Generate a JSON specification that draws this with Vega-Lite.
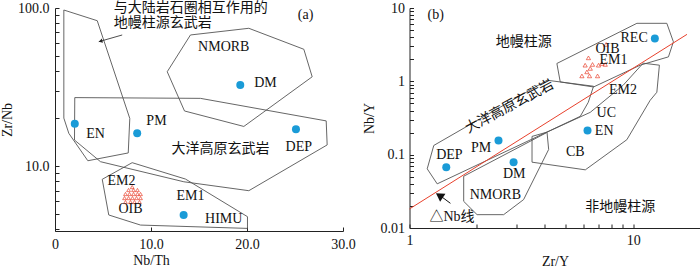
{
  "$schema": "https://vega.github.io/schema/vega-lite/v6.json",
  "padding": {"left": 0, "top": 1, "right": 0, "bottom": 0},
  "background": "white",
  "bounds": "flush",
  "spacing": 66.5,
  "config": {
    "view": {"stroke": null},
    "axis": {
      "grid": false, "domainColor": "#222", "tickColor": "#222", "labelColor": "#111", "titleColor": "#111",
      "labelFont": "Liberation Serif", "titleFont": "Liberation Serif", "labelFontSize": 14, "titleFontSize": 14,
      "titleFontWeight": "normal", "tickSize": -4, "domainWidth": 1, "tickWidth": 1, "labelOverlap": false, "labelFlush": false
    }
  },
  "datasets": {
    "polyA": [
      {"poly": "A1", "i": 0, "x": 0.92, "y": 97.1}, {"poly": "A1", "i": 1, "x": 4.40, "y": 83.1}, {"poly": "A1", "i": 2, "x": 7.79, "y": 20.0}, {"poly": "A1", "i": 3, "x": 7.63, "y": 12.1}, {"poly": "A1", "i": 4, "x": 3.42, "y": 10.8}, {"poly": "A1", "i": 5, "x": 1.44, "y": 16.1}, {"poly": "A1", "i": 6, "x": 0.92, "y": 20.1}, {"poly": "A1", "i": 7, "x": 0.92, "y": 97.1},
      {"poly": "A2", "i": 0, "x": 2.06, "y": 27.1}, {"poly": "A2", "i": 1, "x": 15.16, "y": 26.8}, {"poly": "A2", "i": 2, "x": 28.25, "y": 19.3}, {"poly": "A2", "i": 3, "x": 28.35, "y": 13.6}, {"poly": "A2", "i": 4, "x": 20.19, "y": 6.98}, {"poly": "A2", "i": 5, "x": 13.42, "y": 7.95}, {"poly": "A2", "i": 6, "x": 4.74, "y": 10.65}, {"poly": "A2", "i": 7, "x": 2.03, "y": 14.6}, {"poly": "A2", "i": 8, "x": 2.06, "y": 27.1},
      {"poly": "A3", "i": 0, "x": 11.69, "y": 39.5}, {"poly": "A3", "i": 1, "x": 14.11, "y": 67.5}, {"poly": "A3", "i": 2, "x": 20.19, "y": 74.4}, {"poly": "A3", "i": 3, "x": 25.92, "y": 54.8}, {"poly": "A3", "i": 4, "x": 26.79, "y": 36.7}, {"poly": "A3", "i": 5, "x": 19.67, "y": 17.8}, {"poly": "A3", "i": 6, "x": 13.49, "y": 22.3}, {"poly": "A3", "i": 7, "x": 11.69, "y": 39.5},
      {"poly": "A4", "i": 0, "x": 4.92, "y": 8.24}, {"poly": "A4", "i": 1, "x": 8.04, "y": 10.5}, {"poly": "A4", "i": 2, "x": 13.59, "y": 8.27}, {"poly": "A4", "i": 3, "x": 20.05, "y": 4.78}, {"poly": "A4", "i": 4, "x": 20.05, "y": 4.03}, {"poly": "A4", "i": 5, "x": 8.91, "y": 4.23}, {"poly": "A4", "i": 6, "x": 5.60, "y": 4.90}, {"poly": "A4", "i": 7, "x": 4.92, "y": 8.24}
    ],
    "ptsA": [
      {"name": "EN", "x": 2.06, "y": 18.5}, {"name": "PM", "x": 8.56, "y": 16.1}, {"name": "DM", "x": 19.3, "y": 32.6}, {"name": "DEP", "x": 25.1, "y": 17.1}, {"name": "HIMU", "x": 13.4, "y": 4.9}
    ],
    "triA": [
      {"x": 8.04, "y": 7.36},
      {"x": 7.66, "y": 7.05}, {"x": 8.18, "y": 7.05}, {"x": 8.59, "y": 7.05},
      {"x": 7.34, "y": 6.65}, {"x": 7.76, "y": 6.65}, {"x": 8.18, "y": 6.65}, {"x": 8.59, "y": 6.65}, {"x": 8.91, "y": 6.65},
      {"x": 7.24, "y": 6.27}, {"x": 7.66, "y": 6.27}, {"x": 8.07, "y": 6.27}, {"x": 8.49, "y": 6.27}, {"x": 8.91, "y": 6.27},
      {"x": 7.34, "y": 5.92}, {"x": 7.86, "y": 5.92}, {"x": 8.28, "y": 5.92}, {"x": 8.80, "y": 5.92}
    ],
    "txtA": [
      {"label": "EN", "x": 4.22, "y": 15.9}, {"label": "PM", "x": 10.57, "y": 19.3}, {"label": "DM", "x": 21.93, "y": 33.5}, {"label": "DEP", "x": 25.4, "y": 13.1},
      {"label": "NMORB", "x": 17.58, "y": 56.9}, {"label": "大洋高原玄武岩", "x": 17.24, "y": 12.8}, {"label": "EM2", "x": 6.93, "y": 8.07}, {"label": "OIB", "x": 7.86, "y": 5.32},
      {"label": "EM1", "x": 14.11, "y": 6.46}, {"label": "HIMU", "x": 17.58, "y": 4.6}, {"label": "(a)", "x": 26.1, "y": 90.3}
    ],
    "annoA": [
      {"label": "与大陆岩石圈相互作用的", "x": 6.125, "y": 100}, {"label": "地幔柱源玄武岩", "x": 6.125, "y": 80.7}
    ],
    "arrowA": [{"x": 7.0, "y": 67.5, "x2": 4.56, "y2": 61.2}],
    "headA": [{"x": 4.75, "y": 61.7}],
    "polyB": [
      {"poly": "B1", "i": 0, "x": 4.56, "y": 1.752}, {"poly": "B1", "i": 1, "x": 10.39, "y": 6.18}, {"poly": "B1", "i": 2, "x": 14.14, "y": 6.18}, {"poly": "B1", "i": 3, "x": 15.13, "y": 3.46}, {"poly": "B1", "i": 4, "x": 14.38, "y": 2.157}, {"poly": "B1", "i": 5, "x": 10.75, "y": 1.661}, {"poly": "B1", "i": 6, "x": 6.65, "y": 0.838}, {"poly": "B1", "i": 7, "x": 4.72, "y": 0.981}, {"poly": "B1", "i": 8, "x": 4.56, "y": 1.752},
      {"poly": "B2", "i": 0, "x": 1.20, "y": 0.0641}, {"poly": "B2", "i": 1, "x": 1.284, "y": 0.1336}, {"poly": "B2", "i": 2, "x": 4.12, "y": 1.035}, {"poly": "B2", "i": 3, "x": 6.65, "y": 0.857}, {"poly": "B2", "i": 4, "x": 6.30, "y": 0.518}, {"poly": "B2", "i": 5, "x": 5.80, "y": 0.333}, {"poly": "B2", "i": 6, "x": 1.33, "y": 0.04}, {"poly": "B2", "i": 7, "x": 1.20, "y": 0.0641},
      {"poly": "B3", "i": 0, "x": 1.747, "y": 0.0508}, {"poly": "B3", "i": 1, "x": 1.747, "y": 0.0231}, {"poly": "B3", "i": 2, "x": 2.005, "y": 0.0152}, {"poly": "B3", "i": 3, "x": 2.636, "y": 0.0152}, {"poly": "B3", "i": 4, "x": 3.237, "y": 0.0244}, {"poly": "B3", "i": 5, "x": 4.19, "y": 0.1178}, {"poly": "B3", "i": 6, "x": 4.12, "y": 0.2012}, {"poly": "B3", "i": 7, "x": 1.747, "y": 0.0508},
      {"poly": "B4", "i": 0, "x": 3.53, "y": 0.1774}, {"poly": "B4", "i": 1, "x": 3.53, "y": 0.079}, {"poly": "B4", "i": 2, "x": 6.11, "y": 0.0621}, {"poly": "B4", "i": 3, "x": 9.37, "y": 0.16}, {"poly": "B4", "i": 4, "x": 11.91, "y": 0.551}, {"poly": "B4", "i": 5, "x": 12.76, "y": 0.71}, {"poly": "B4", "i": 6, "x": 13.1, "y": 1.661}, {"poly": "B4", "i": 7, "x": 11.08, "y": 1.768}, {"poly": "B4", "i": 8, "x": 9.02, "y": 0.884}, {"poly": "B4", "i": 9, "x": 6.43, "y": 0.378}, {"poly": "B4", "i": 10, "x": 4.12, "y": 0.203}, {"poly": "B4", "i": 11, "x": 3.53, "y": 0.1774}
    ],
    "redB": [{"x": 1, "y": 0.0182}, {"x": 17.4, "y": 4.37}],
    "ptsB": [
      {"name": "REC", "x": 12.5, "y": 3.85}, {"name": "EN", "x": 6.25, "y": 0.214}, {"name": "DEP", "x": 1.46, "y": 0.0675}, {"name": "PM", "x": 2.5, "y": 0.156}, {"name": "DM", "x": 2.92, "y": 0.079}
    ],
    "triB": [
      {"x": 6.31, "y": 2.09}, {"x": 6.1, "y": 1.66}, {"x": 6.58, "y": 1.70}, {"x": 7.0, "y": 1.66}, {"x": 7.25, "y": 1.75}, {"x": 7.5, "y": 1.70},
      {"x": 6.43, "y": 1.50}, {"x": 6.21, "y": 1.345}, {"x": 5.9, "y": 1.185}, {"x": 6.38, "y": 1.185}, {"x": 6.93, "y": 1.185}, {"x": 7.57, "y": 3.19}
    ],
    "txtB": [
      {"label": "(b)", "x": 1.31, "y": 8.02}, {"label": "地幔柱源", "x": 3.24, "y": 3.46}, {"label": "REC", "x": 10.1, "y": 3.85}, {"label": "OIB", "x": 7.68, "y": 2.72},
      {"label": "EM1", "x": 8.17, "y": 1.94}, {"label": "EM2", "x": 9.0, "y": 0.772}, {"label": "UC", "x": 7.58, "y": 0.37}, {"label": "EN", "x": 7.42, "y": 0.2077},
      {"label": "CB", "x": 5.51, "y": 0.108}, {"label": "非地幔柱源", "x": 8.75, "y": 0.01956}, {"label": "DEP", "x": 1.508, "y": 0.0975}, {"label": "PM", "x": 2.09, "y": 0.1243},
      {"label": "DM", "x": 2.94, "y": 0.0548}, {"label": "NMORB", "x": 2.42, "y": 0.02854}, {"label": "△Nb线", "x": 1.55, "y": 0.01396}
    ],
    "rotB": [{"label": "大洋高原玄武岩", "x": 2.8, "y": 0.45}],
    "arrowB": [{"x": 1.524, "y": 0.0217, "x2": 1.38, "y2": 0.0272}],
    "headB": [{"x": 1.36, "y": 0.0278}]
  },
  "hconcat": [
    {
      "width": 288,
      "height": 223,
      "encoding": {
        "x": {"field": "x", "type": "quantitative",
          "scale": {"domain": [0, 30], "nice": false, "zero": false},
          "axis": {"values": [0, 10, 20, 30], "labelExpr": "datum.value == 0 ? '0' : format(datum.value, '.1f')", "title": "Nb/Th", "labelPadding": 10, "titlePadding": 2, "titleX": 96}},
        "y": {"field": "y", "type": "quantitative",
          "scale": {"type": "log", "domain": [3.88, 100], "nice": false},
          "axis": {"values": [4, 5, 6, 7, 8, 9, 10, 20, 30, 40, 50, 60, 70, 80, 90, 100], "labelExpr": "datum.value == 10 ? '10.0' : datum.value == 100 ? '100.0' : ''", "title": "Zr/Nb", "labelPadding": 10, "titlePadding": 3}}
      },
      "layer": [
        {"data": {"name": "polyA"}, "mark": {"type": "line", "color": "#555", "strokeWidth": 0.9}, "encoding": {"detail": {"field": "poly"}, "order": {"field": "i", "type": "quantitative"}}},
        {"data": {"name": "ptsA"}, "mark": {"type": "point", "filled": true, "shape": "circle", "size": 64, "color": "#1a9bd7", "opacity": 1}},
        {"data": {"name": "triA"}, "mark": {"type": "point", "filled": false, "shape": "triangle-up", "size": 14, "color": "#e8412c", "strokeWidth": 0.7, "opacity": 1}},
        {"data": {"name": "txtA"}, "mark": {"type": "text", "font": "Liberation Serif, Noto Sans CJK SC", "fontSize": 14, "color": "#111", "align": "center", "baseline": "middle"}, "encoding": {"text": {"field": "label"}}},
        {"data": {"name": "annoA"}, "mark": {"type": "text", "font": "Liberation Serif, Noto Sans CJK SC", "fontSize": 14, "color": "#111", "align": "left", "baseline": "middle"}, "encoding": {"text": {"field": "label"}}},
        {"data": {"name": "arrowA"}, "mark": {"type": "rule", "color": "#222", "strokeWidth": 0.8}, "encoding": {"x2": {"field": "x2"}, "y2": {"field": "y2"}}},
        {"data": {"name": "headA"}, "mark": {"type": "point", "shape": "triangle-up", "filled": true, "size": 18, "angle": 254, "color": "#222", "opacity": 1}}
      ]
    },
    {
      "width": 291,
      "height": 220,
      "encoding": {
        "x": {"field": "x", "type": "quantitative",
          "scale": {"type": "log", "domain": [1, 20], "nice": false},
          "axis": {"values": [1, 2, 3, 4, 5, 6, 7, 8, 9, 10], "labelExpr": "datum.value == 1 ? '1' : datum.value == 10 ? '10' : ''", "title": "Zr/Y", "labelPadding": 9, "titlePadding": 7}},
        "y": {"field": "y", "type": "quantitative",
          "scale": {"type": "log", "domain": [0.01, 10], "nice": false},
          "axis": {"values": [0.01, 0.02, 0.03, 0.04, 0.05, 0.06, 0.07, 0.08, 0.09, 0.1, 0.2, 0.3, 0.4, 0.5, 0.6, 0.7, 0.8, 0.9, 1, 2, 3, 4, 5, 6, 7, 8, 9, 10], "labelExpr": "datum.value == 10 ? '10' : datum.value == 1 ? '1' : datum.value == 0.1 ? '0.1' : datum.value == 0.01 ? '0.01' : ''", "title": "Nb/Y", "labelPadding": 9, "titlePadding": 4}}
      },
      "layer": [
        {"data": {"name": "polyB"}, "mark": {"type": "line", "color": "#555", "strokeWidth": 0.9}, "encoding": {"detail": {"field": "poly"}, "order": {"field": "i", "type": "quantitative"}}},
        {"data": {"name": "redB"}, "mark": {"type": "line", "color": "#e8412c", "strokeWidth": 1}, "encoding": {}},
        {"data": {"name": "ptsB"}, "mark": {"type": "point", "filled": true, "shape": "circle", "size": 64, "color": "#1a9bd7", "opacity": 1}},
        {"data": {"name": "triB"}, "mark": {"type": "point", "filled": false, "shape": "triangle-up", "size": 18, "color": "#e8412c", "strokeWidth": 0.7, "opacity": 1}},
        {"data": {"name": "txtB"}, "mark": {"type": "text", "font": "Liberation Serif, Noto Sans CJK SC", "fontSize": 14, "color": "#111", "align": "center", "baseline": "middle"}, "encoding": {"text": {"field": "label"}}},
        {"data": {"name": "rotB"}, "mark": {"type": "text", "font": "Liberation Serif, Noto Sans CJK SC", "fontSize": 14, "color": "#111", "align": "center", "baseline": "middle", "angle": -28}, "encoding": {"text": {"field": "label"}}},
        {"data": {"name": "arrowB"}, "mark": {"type": "rule", "color": "#111", "strokeWidth": 1}, "encoding": {"x2": {"field": "x2"}, "y2": {"field": "y2"}}},
        {"data": {"name": "headB"}, "mark": {"type": "point", "shape": "triangle-up", "filled": true, "size": 90, "angle": 304, "color": "#111", "opacity": 1}}
      ]
    }
  ]
}
